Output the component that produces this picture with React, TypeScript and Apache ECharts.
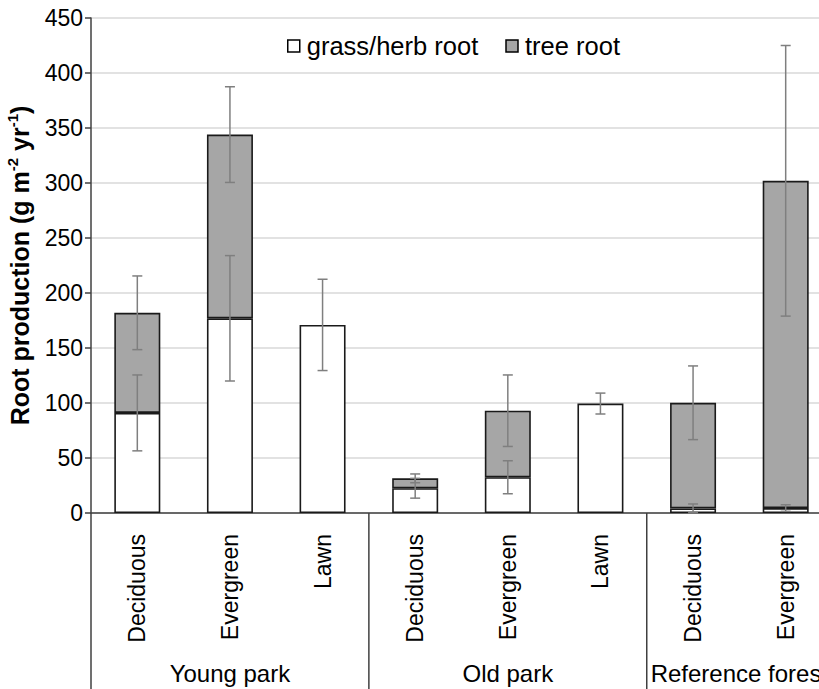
import React, { useEffect, useRef } from "react";
import * as echarts from "echarts";

const categories = ["Deciduous", "Evergreen", "Lawn", "Deciduous", "Evergreen", "Lawn", "Deciduous", "Evergreen"];
const groups = ["Young park", "Old park", "Reference forest"];
const groupSizes = [3, 3, 2];
const grassRoot = [91, 177, 171, 22.5, 32.5, 99.5, 4.2, 4.5];
const treeRoot = [91, 167, null, 9, 60.5, null, 96, 297.5];
const grassErr = [34.5, 57, 41.5, 9, 15, 9.5, 4, 3];
const treeErr = [33.5, 43.5, null, 4, 32.5, null, 33.5, 123];
const yTicks = { min: 0, max: 450, interval: 50 };

const FONT = "'Liberation Sans', Arial, Helvetica, sans-serif";

export default function App() {
  const ref = useRef<HTMLDivElement>(null);
  useEffect(() => {
    if (!ref.current) return;
    const chart = echarts.init(ref.current, null, { renderer: "svg" });

    const errData: number[][] = [];
    categories.forEach((_, i) => {
      if (grassErr[i] != null) errData.push([i, grassRoot[i], grassErr[i] as number]);
      if (treeErr[i] != null && treeRoot[i] != null)
        errData.push([i, grassRoot[i] + (treeRoot[i] as number), treeErr[i] as number]);
    });

    const option: any = {
      animation: false,
      backgroundColor: "#ffffff",
      textStyle: { fontFamily: FONT },
      grid: { left: 91, top: 18, width: 741, height: 495, containLabel: false, outerBoundsMode: "none" },
      legend: {
        left: 282,
        top: 28,
        icon: "rect",
        itemWidth: 12,
        itemHeight: 12,
        itemGap: 27,
        textStyle: { fontSize: 25.5, color: "#000", fontFamily: FONT, padding: [0, 0, 0, 2] },
        data: [
          { name: "grass/herb root", itemStyle: { color: "#ffffff", borderColor: "#000", borderWidth: 1.5 } },
          { name: "tree root", itemStyle: { color: "#a6a6a6", borderColor: "#000", borderWidth: 1.5 } },
        ],
      },
      xAxis: {
        type: "category",
        data: categories,
        axisLine: { show: true, lineStyle: { color: "#404040", width: 1.5 } },
        axisTick: { show: false },
        axisLabel: { rotate: 90, fontSize: 23, color: "#000", margin: 21, fontFamily: FONT },
        splitLine: { show: false },
      },
      yAxis: {
        type: "value",
        min: yTicks.min,
        max: yTicks.max,
        interval: yTicks.interval,
        axisLine: { show: true, lineStyle: { color: "#404040", width: 1.5 } },
        axisTick: { show: true, length: 6, lineStyle: { color: "#404040", width: 1.5 } },
        axisLabel: { fontSize: 23, color: "#000", margin: 8, fontFamily: FONT },
        splitLine: { show: true, lineStyle: { color: "#d9d9d9", width: 1.5 } },
        name: "{a|Root production (g m}{s|-2}{a| yr}{s|-1}{a|)}",
        nameLocation: "middle",
        nameRotate: 90,
        nameGap: 57,
        nameTextStyle: {
          rich: {
            a: { fontSize: 25, fontWeight: "bold", color: "#000", fontFamily: FONT, lineHeight: 29 },
            s: { fontSize: 15, fontWeight: "bold", color: "#000", fontFamily: FONT, verticalAlign: "top", lineHeight: 29 },
          },
        },
      },
      series: [
        {
          name: "grass/herb root",
          type: "bar",
          stack: "root",
          barWidth: 46,
          data: grassRoot,
          itemStyle: { color: "#ffffff", borderColor: "#1a1a1a", borderWidth: 1.6 },
        },
        {
          name: "tree root",
          type: "bar",
          stack: "root",
          barWidth: 46,
          data: treeRoot.map((v) => (v == null ? "-" : v)),
          itemStyle: { color: "#a6a6a6", borderColor: "#1a1a1a", borderWidth: 1.6 },
        },
        {
          name: "err",
          type: "custom",
          z: 10,
          data: errData,
          renderItem: (params: any, api: any) => {
            const x = api.value(0);
            const c = api.value(1);
            const e = api.value(2);
            const top = api.coord([x, c + e]);
            const bot = api.coord([x, c - e]);
            const hw = 5;
            const st = { stroke: "#7f7f7f", lineWidth: 1.5 };
            return {
              type: "group",
              children: [
                { type: "line", shape: { x1: top[0], y1: top[1], x2: bot[0], y2: bot[1] }, style: st },
                { type: "line", shape: { x1: top[0] - hw, y1: top[1], x2: top[0] + hw, y2: top[1] }, style: st },
                { type: "line", shape: { x1: bot[0] - hw, y1: bot[1], x2: bot[0] + hw, y2: bot[1] }, style: st },
              ],
            };
          },
        },
      ],
    };
    chart.setOption(option);

    const x0 = chart.convertToPixel({ xAxisIndex: 0 }, 0) as number;
    const x1 = chart.convertToPixel({ xAxisIndex: 0 }, 1) as number;
    const band = x1 - x0;
    const yBase = chart.convertToPixel({ yAxisIndex: 0 }, 0) as number;
    const H = 689;
    const graphics: any[] = [];
    let start = 0;
    const boundaries = [0];
    groupSizes.forEach((n, gi) => {
      const left = x0 - band / 2 + start * band;
      const right = left + n * band;
      boundaries.push(start + n);
      graphics.push({
        type: "text",
        x: (left + right) / 2,
        y: 673,
        style: {
          text: groups[gi],
          fontSize: 24,
          fontFamily: FONT,
          fill: "#000",
          align: "center",
          verticalAlign: "middle",
        },
      });
      start += n;
    });
    boundaries.forEach((b) => {
      const bx = x0 - band / 2 + b * band;
      graphics.push({
        type: "line",
        shape: { x1: bx, y1: yBase, x2: bx, y2: H },
        style: { stroke: "#404040", lineWidth: 1.5 },
      });
    });
    chart.setOption({ graphic: graphics });

    return () => chart.dispose();
  }, []);
  return (
    <div
      ref={ref}
      style={{ position: "fixed", left: 0, top: 0, width: 819, height: 689, background: "#fff" }}
    />
  );
}
